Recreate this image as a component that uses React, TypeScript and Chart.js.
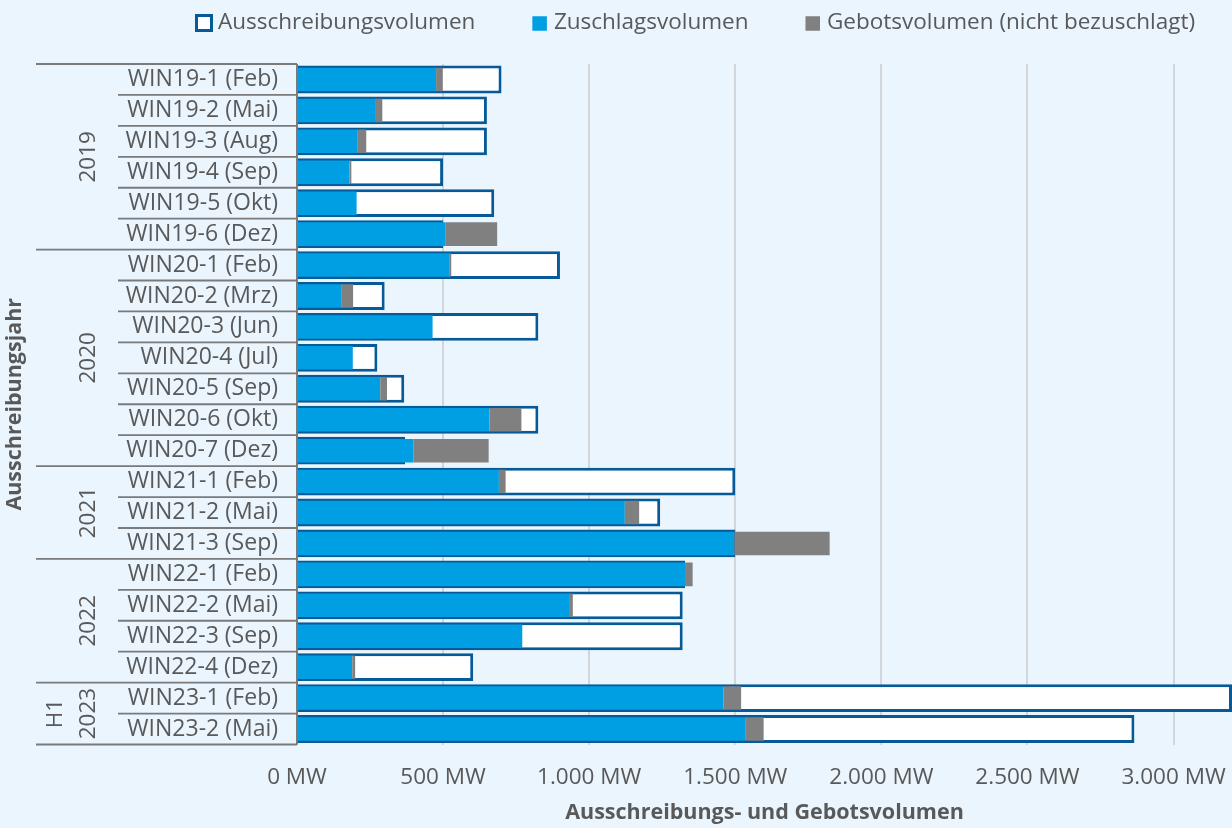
import { useEffect, useRef } from 'react';
import { Chart, registerables } from 'chart.js';

Chart.register(...registerables);

const categories = [
  'WIN19-1 (Feb)', 'WIN19-2 (Mai)', 'WIN19-3 (Aug)', 'WIN19-4 (Sep)', 'WIN19-5 (Okt)', 'WIN19-6 (Dez)',
  'WIN20-1 (Feb)', 'WIN20-2 (Mrz)', 'WIN20-3 (Jun)', 'WIN20-4 (Jul)', 'WIN20-5 (Sep)', 'WIN20-6 (Okt)', 'WIN20-7 (Dez)',
  'WIN21-1 (Feb)', 'WIN21-2 (Mai)', 'WIN21-3 (Sep)',
  'WIN22-1 (Feb)', 'WIN22-2 (Mai)', 'WIN22-3 (Sep)', 'WIN22-4 (Dez)',
  'WIN23-1 (Feb)', 'WIN23-2 (Mai)',
];

const yearLabels = [['2019'], ['2020'], ['2021'], ['2022'], ['H1', '2023']];
const yearCounts = [6, 7, 3, 4, 2];

const ausschreibungsvolumen = [700, 650, 650, 500, 675, 500, 900, 300, 826, 275, 367, 826, 370, 1500, 1243, 1500, 1328, 1320, 1320, 603, 3200, 2866];
const zuschlagsvolumen = [476, 270, 208, 180, 204, 509, 523, 151, 464, 191, 285, 659, 399, 691, 1122, 1497, 1331, 931, 771, 189, 1460, 1536];
const gebotsvolumen = [499, 292, 237, 186, 204, 685, 528, 192, 464, 191, 308, 768, 656, 714, 1171, 1823, 1354, 944, 771, 199, 1520, 1597];

const xTickValues = [0, 500, 1000, 1500, 2000, 2500, 3000];
const xMax = 3200;

const seriesNames = ['Ausschreibungsvolumen', 'Zuschlagsvolumen', 'Gebotsvolumen (nicht bezuschlagt)'];

const BG = '#eaf5fd';
const BLUE = '#009fe3';
const DARK = '#065a98';
const GREY = '#808080';
const TEXT = '#595959';
const LINE = '#7a7a7a';
const FONT = '"Open Sans", "Noto Sans", sans-serif';

function fmt(v: number): string {
  return String(v).replace(/\B(?=(\d{3})+(?!\d))/g, '.') + ' MW';
}

const backgroundPlugin = {
  id: 'bg',
  beforeDraw(chart: any) {
    const ctx = chart.ctx;
    ctx.save();
    ctx.fillStyle = BG;
    ctx.fillRect(0, 0, chart.width, chart.height);
    ctx.restore();
  },
};

const categoryPlugin = {
  id: 'groups',
  afterDatasetsDraw(chart: any) {
    const ctx = chart.ctx;
    const area = chart.chartArea;
    const n = categories.length;
    const rowH = (area.bottom - area.top) / n;
    ctx.save();
    ctx.strokeStyle = LINE;
    ctx.lineWidth = 1.8;
    const groupStarts = new Set<number>();
    let acc = 0;
    groupStarts.add(0);
    yearCounts.forEach((c) => { acc += c; groupStarts.add(acc); });
    for (let i = 0; i <= n; i++) {
      const y = area.top + i * rowH;
      const x0 = groupStarts.has(i) ? 36 : 118;
      ctx.beginPath();
      ctx.moveTo(x0, y);
      ctx.lineTo(area.left, y);
      ctx.stroke();
    }
    ctx.lineWidth = 2;
    ctx.beginPath();
    ctx.moveTo(area.left, area.top);
    ctx.lineTo(area.left, area.bottom);
    ctx.stroke();
    ctx.fillStyle = TEXT;
    ctx.font = `22.5px ${FONT}`;
    ctx.textAlign = 'center';
    ctx.textBaseline = 'middle';
    let start = 0;
    yearLabels.forEach((lines, gi) => {
      const cy = area.top + (start + yearCounts[gi] / 2) * rowH;
      const lh = 33;
      lines.forEach((t, li) => {
        const cx = 88 - (lines.length - 1 - li) * lh;
        ctx.save();
        ctx.translate(cx, cy);
        ctx.rotate(-Math.PI / 2);
        ctx.fillText(t, 0, 1);
        ctx.restore();
      });
      start += yearCounts[gi];
    });
    ctx.restore();
  },
};

const legendPlugin = {
  id: 'customLegend',
  afterDraw(chart: any) {
    const ctx = chart.ctx;
    ctx.save();
    ctx.font = `22.5px ${FONT}`;
    ctx.textBaseline = 'middle';
    ctx.textAlign = 'left';
    const cy = 23;
    let x = 195;
    chart.data.datasets.forEach((ds: any) => {
      if (ds.borderWidth) {
        const s = 18;
        ctx.fillStyle = ds.backgroundColor;
        ctx.fillRect(x, cy - s / 2, s, s);
        ctx.strokeStyle = ds.borderColor;
        ctx.lineWidth = 3;
        ctx.strokeRect(x + 1.5, cy - s / 2 + 1.5, s - 3, s - 3);
        x += s + 5;
      } else {
        const s = 14.5;
        ctx.fillStyle = ds.backgroundColor;
        ctx.fillRect(x, cy - s / 2 + 0.5, s, s);
        x += s + 7;
      }
      ctx.fillStyle = TEXT;
      ctx.fillText(ds.label, x, cy);
      x += ctx.measureText(ds.label).width + 57;
    });
    ctx.restore();
  },
};

export default function App() {
  const ref = useRef<HTMLCanvasElement>(null);

  useEffect(() => {
    document.body.style.margin = '0';
    document.body.style.background = BG;
    const notAwarded = zuschlagsvolumen.map((z, i) => (gebotsvolumen[i] > z ? [z, gebotsvolumen[i]] : null));
    const chart = new Chart(ref.current as HTMLCanvasElement, {
      type: 'bar',
      data: {
        labels: categories,
        datasets: [
          {
            label: seriesNames[0],
            data: ausschreibungsvolumen,
            backgroundColor: '#ffffff',
            borderColor: DARK,
            borderWidth: 3,
            grouped: false,
            order: 2,
            categoryPercentage: 1,
            barPercentage: 0.9,
          } as any,
          {
            label: seriesNames[1],
            data: zuschlagsvolumen,
            backgroundColor: BLUE,
            borderWidth: 0,
            grouped: false,
            order: 1,
            categoryPercentage: 1,
            barPercentage: 0.76,
          } as any,
          {
            label: seriesNames[2],
            data: notAwarded as any,
            backgroundColor: GREY,
            borderWidth: 0,
            grouped: false,
            order: 0,
            categoryPercentage: 1,
            barPercentage: 0.76,
          } as any,
        ],
      },
      options: {
        indexAxis: 'y',
        responsive: false,
        animation: false,
        devicePixelRatio: 1,
        layout: { padding: { top: 64, left: 0, right: 0, bottom: 0 } },
        plugins: {
          legend: { display: false },
          tooltip: { enabled: false },
        },
        scales: {
          x: {
            min: 0,
            max: xMax,
            grid: { color: '#d3d6d9', lineWidth: 2, drawTicks: false },
            border: { display: false },
            ticks: {
              stepSize: 500,
              autoSkip: false,
              maxRotation: 0,
              padding: 20,
              color: TEXT,
              font: { family: FONT, size: 22.5 },
              callback: (v: any) => fmt(Number(v)),
            },
            afterBuildTicks: (scale: any) => {
              scale.ticks = xTickValues.map((v) => ({ value: v }));
            },
            afterFit: (scale: any) => {
              scale.height = 83.5;
              scale.paddingRight = 0;
              scale.paddingLeft = 0;
            },
            title: {
              display: true,
              text: 'Ausschreibungs- und Gebotsvolumen',
              color: TEXT,
              font: { family: FONT, size: 21.5, weight: 'bold' },
              padding: { top: 0, bottom: 2 },
            },
          },
          y: {
            grid: { display: false, drawTicks: false },
            border: { display: false },
            ticks: {
              autoSkip: false,
              padding: 19,
              color: TEXT,
              font: { family: FONT, size: 23 },
            },
            afterFit: (scale: any) => {
              scale.width = 297;
            },
            title: {
              display: true,
              text: 'Ausschreibungsjahr',
              color: TEXT,
              font: { family: FONT, size: 21.5, weight: 'bold' },
              padding: { top: 2, bottom: 0 },
            },
          },
        },
      } as any,
      plugins: [backgroundPlugin, categoryPlugin, legendPlugin],
    });
    return () => chart.destroy();
  }, []);

  return <canvas ref={ref} width={1232} height={828} style={{ display: 'block' }} />;
}
